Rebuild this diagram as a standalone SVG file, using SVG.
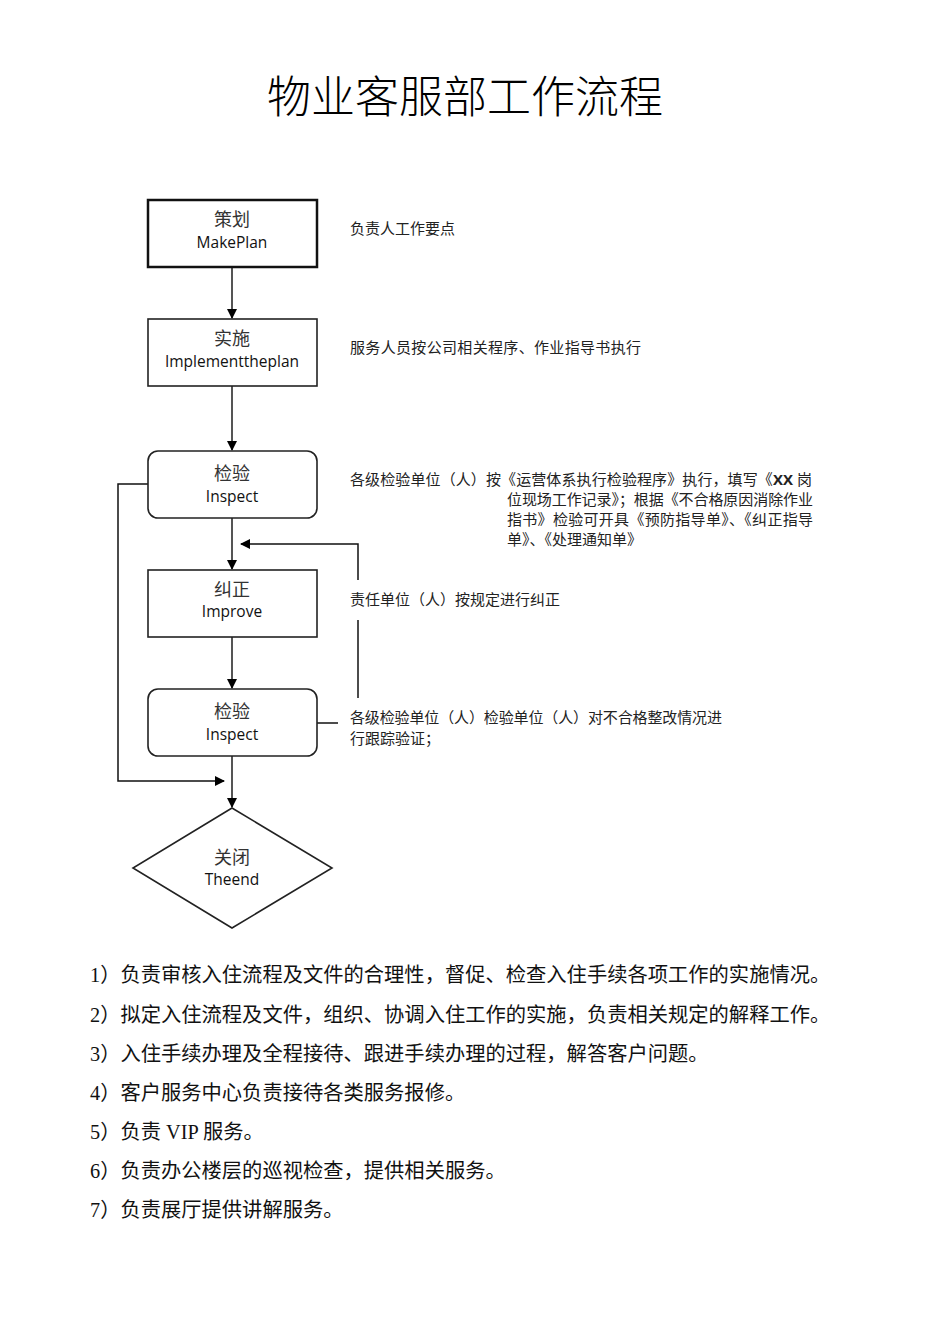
<svg xmlns="http://www.w3.org/2000/svg" width="950" height="1344" viewBox="0 0 950 1344">
<defs>
<marker id="ah" markerWidth="10" markerHeight="10" refX="9" refY="5" orient="auto" markerUnits="userSpaceOnUse">
<path d="M0,0 L10,5 L0,10 Z" fill="#000"/>
</marker>
<style>
.box{fill:#fff;stroke:#222;stroke-width:1.6}
.cn{font-family:"Liberation Serif","Noto Sans CJK SC",serif;font-size:18px;fill:#333;text-anchor:middle}
.en{font-family:"Open Sans","Noto Sans",sans-serif;font-size:15.5px;fill:#111;text-anchor:middle}
.ann{font-family:"Liberation Serif","Noto Sans CJK SC",serif;font-size:15px;fill:#222}
.list{font-family:"Liberation Serif","Noto Sans CJK SC",serif;font-size:20.3px;fill:#111}
.flow{fill:none;stroke:#555;stroke-width:2}
.loop{fill:none;stroke:#111;stroke-width:1.5}
</style>
</defs>
<rect width="950" height="1344" fill="#fff"/>
<text x="465" y="113" font-family="Liberation Serif,'Noto Sans CJK SC',serif" font-size="44" font-weight="300" text-anchor="middle" fill="#000">物业客服部工作流程</text>

<g id="connectors">
<line class="flow" x1="232" y1="267" x2="232" y2="318" marker-end="url(#ah)"/>
<line class="flow" x1="232" y1="386" x2="232" y2="450" marker-end="url(#ah)"/>
<line class="flow" x1="232" y1="518" x2="232" y2="569" marker-end="url(#ah)"/>
<line class="flow" x1="232" y1="637" x2="232" y2="688" marker-end="url(#ah)"/>
<line class="flow" x1="232" y1="756" x2="232" y2="807" marker-end="url(#ah)"/>
<polyline class="loop" points="148,484 118,484 118,781 224,781" marker-end="url(#ah)"/>
<polyline class="loop" points="358,580 358,544 241,544" marker-end="url(#ah)"/>
<line class="loop" x1="358" y1="620" x2="358" y2="698"/>
<line class="loop" x1="317" y1="723" x2="338" y2="723"/>
</g>

<g id="n1">
<rect x="148" y="200" width="169" height="67" fill="#fff" stroke="#111" stroke-width="2.5"/>
<text class="cn" x="232" y="226">策划</text>
<text class="en" x="232" y="248">MakePlan</text>
</g>
<g id="n2">
<rect class="box" x="148" y="319" width="169" height="67"/>
<text class="cn" x="232" y="345">实施</text>
<text class="en" x="232" y="367">Implementtheplan</text>
</g>
<g id="n3">
<rect class="box" x="148" y="451" width="169" height="67" rx="10"/>
<text class="cn" x="232" y="480">检验</text>
<text class="en" x="232" y="502">Inspect</text>
</g>
<g id="n4">
<rect class="box" x="148" y="570" width="169" height="67"/>
<text class="cn" x="232" y="596">纠正</text>
<text class="en" x="232" y="617">Improve</text>
</g>
<g id="n5">
<rect class="box" x="148" y="689" width="169" height="67" rx="10"/>
<text class="cn" x="232" y="718">检验</text>
<text class="en" x="232" y="740">Inspect</text>
</g>
<g id="n6">
<polygon points="232,808 332,868 232,928 133,868" fill="#fff" stroke="#222" stroke-width="1.6"/>
<text class="cn" x="232" y="864">关闭</text>
<text class="en" x="232" y="885">Theend</text>
</g>

<g id="annotations">
<text class="ann" x="350" y="234">负责人工作要点</text>
<text class="ann" x="350" y="353" textLength="291">服务人员按公司相关程序、作业指导书执行</text>
<text class="ann" x="350" y="485" textLength="462">各级检验单位（人）按《运营体系执行检验程序》执行，填写《<tspan font-family="'Open Sans',sans-serif" font-weight="bold">XX</tspan> 岗</text>
<text class="ann" x="507" y="505" textLength="306">位现场工作记录》；根据《不合格原因消除作业</text>
<text class="ann" x="507" y="525" textLength="306">指书》检验可开具《预防指导单》、《纠正指导</text>
<text class="ann" x="507" y="545">单》、《处理通知单》</text>
<text class="ann" x="350" y="605">责任单位（人）按规定进行纠正</text>
<text class="ann" x="350" y="723" textLength="372">各级检验单位（人）检验单位（人）对不合格整改情况进</text>
<text class="ann" x="350" y="744">行跟踪验证；</text>
</g>

<g id="list">
<text class="list" x="90" y="982">1）负责审核入住流程及文件的合理性，督促、检查入住手续各项工作的实施情况。</text>
<text class="list" x="90" y="1022">2）拟定入住流程及文件，组织、协调入住工作的实施，负责相关规定的解释工作。</text>
<text class="list" x="90" y="1061">3）入住手续办理及全程接待、跟进手续办理的过程，解答客户问题。</text>
<text class="list" x="90" y="1100">4）客户服务中心负责接待各类服务报修。</text>
<text class="list" x="90" y="1139">5）负责 VIP 服务。</text>
<text class="list" x="90" y="1178">6）负责办公楼层的巡视检查，提供相关服务。</text>
<text class="list" x="90" y="1217">7）负责展厅提供讲解服务。</text>
</g>
</svg>
